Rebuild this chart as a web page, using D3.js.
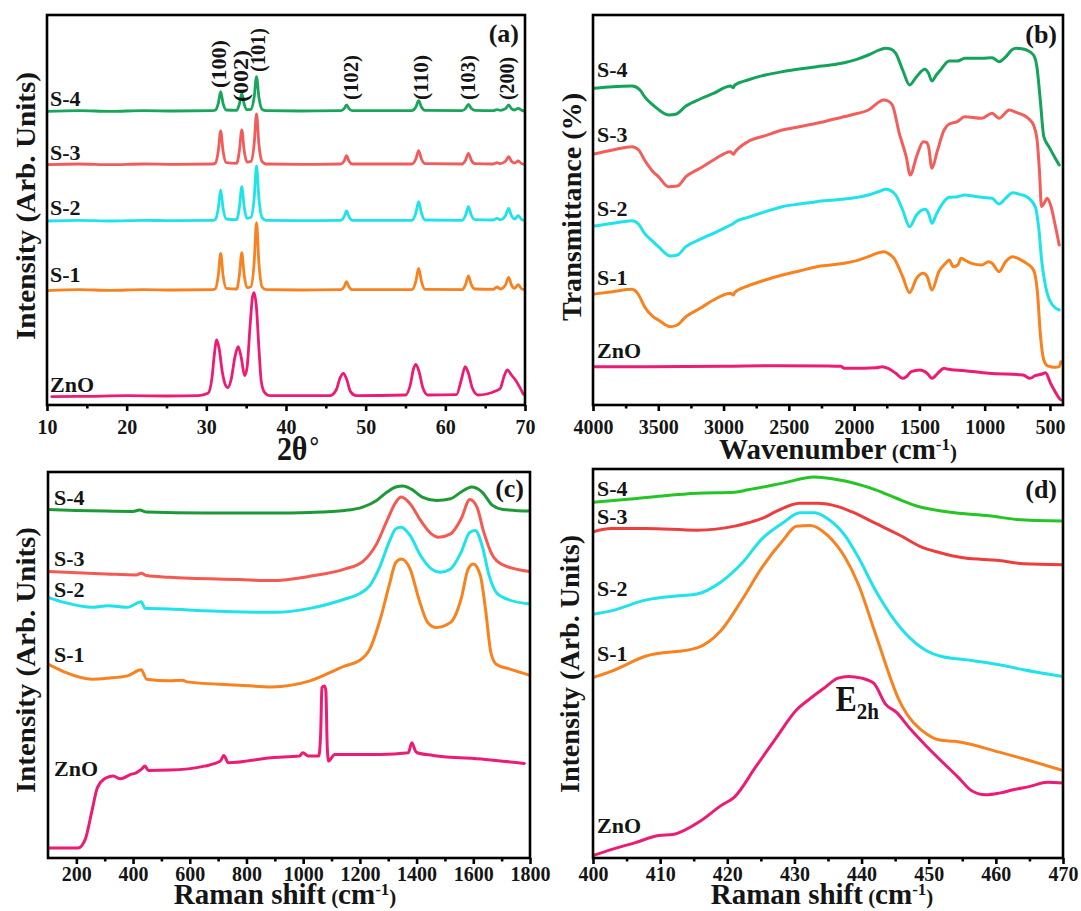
<!DOCTYPE html>
<html>
<head>
<meta charset="utf-8">
<script src="https://cdn.jsdelivr.net/npm/d3@7"></script>
<style>
  html, body { margin: 0; padding: 0; background: #fff; }
  svg { display: block; }
  text { font-family: "Liberation Serif", "Times New Roman", serif; font-weight: bold; fill: #151515; }
</style>
</head>
<body>
<svg id="fig" width="1081" height="911"></svg>
<script>
/* Four-panel ZnO / S-1..S-4 characterisation figure: XRD, FTIR, Raman, Raman zoom.
   Intensities are arbitrary units (0 = bottom axis). */

const samples = ["ZnO", "S-1", "S-2", "S-3", "S-4"];

// ----- (a) XRD, x = 2θ (deg) -----
const xrdZnO = [[10.6,25],[15,26],[20,28],[25,27],[29,28],[30.2,35],[30.7,80],[31.0,150],[31.3,195],[31.6,170],[32.0,100],[32.4,60],[32.7,52],[33.1,75],[33.6,145],[34.0,175],[34.4,140],[34.8,88],[35.1,110],[35.5,240],[35.8,325],[36.0,337],[36.3,290],[36.6,170],[36.9,70],[37.3,38],[38,28],[45.5,28],[46.3,45],[46.8,82],[47.2,95],[47.6,78],[48.1,40],[48.8,28],[55.0,30],[55.6,60],[56.0,108],[56.3,122],[56.7,100],[57.2,50],[57.8,30],[61.4,31],[62.0,75],[62.5,115],[62.9,95],[63.4,50],[64.1,30],[65.2,33],[66.3,42],[66.9,50],[67.4,88],[67.8,105],[68.3,90],[68.8,75],[69.3,55],[69.8,32]];
const xrdS1 = [[10,343],[14,346],[18,344],[22,346],[26,345],[30.8,346],[31.15,349],[31.5,389],[31.8,455],[32.1,389],[32.5,350],[33.8,348],[34.15,390],[34.45,457],[34.75,390],[35.1,352],[35.6,355],[36.0,426],[36.3,547],[36.6,426],[37.0,354],[37.5,346],[42,345],[46.9,346],[47.3,355],[47.6,370],[47.9,355],[48.3,346],[55.8,346],[56.3,371],[56.65,410],[57.0,371],[57.45,347],[62.1,346],[62.55,362],[62.9,387],[63.25,362],[63.7,348],[66.0,347],[66.5,354],[66.9,348],[67.55,360],[67.95,383],[68.3,360],[68.7,350],[69.15,361],[69.6,348],[70,346]];
const xrdS2 = [[10,552],[14,554],[18,552],[22,554],[26,553],[30.8,554],[31.15,557],[31.5,590],[31.8,645],[32.1,590],[32.5,558],[33.8,556],[34.15,594],[34.45,655],[34.75,594],[35.1,560],[35.6,563],[36.0,619],[36.3,717],[36.6,619],[37.0,562],[37.5,554],[42,553],[46.9,554],[47.3,565],[47.6,582],[47.9,565],[48.3,554],[55.8,554],[56.3,576],[56.65,610],[57.0,576],[57.45,555],[62.1,554],[62.55,570],[62.9,595],[63.25,570],[63.7,556],[66.0,555],[66.5,560],[66.9,556],[67.55,568],[67.95,590],[68.3,568],[68.7,558],[69.15,568],[69.6,556],[70,553]];
const xrdS3 = [[10,721],[14,723],[18,721],[22,723],[26,722],[30.8,723],[31.15,726],[31.5,762],[31.8,822],[32.1,762],[32.5,727],[33.8,725],[34.15,763],[34.45,825],[34.75,763],[35.1,729],[35.6,731],[36.0,782],[36.3,873],[36.6,782],[37.0,730],[37.5,723],[42,722],[46.9,723],[47.3,732],[47.6,748],[47.9,732],[48.3,723],[55.8,723],[56.3,738],[56.65,763],[57.0,738],[57.45,724],[62.1,723],[62.55,735],[62.9,755],[63.25,735],[63.7,724],[66.0,723],[66.5,727],[66.9,724],[67.55,731],[67.95,745],[68.3,731],[68.7,726],[69.15,732],[69.6,724],[70,722]];
const xrdS4 = [[10,881],[14,883],[18,881],[22,883],[26,882],[30.8,883],[31.15,885],[31.5,905],[31.8,940],[32.1,905],[32.5,885],[33.8,884],[34.15,903],[34.45,935],[34.75,903],[35.1,886],[35.6,887],[36.0,923],[36.3,985],[36.6,923],[37.0,887],[37.5,883],[42,882],[46.9,883],[47.3,889],[47.6,900],[47.9,889],[48.3,883],[55.8,883],[56.3,894],[56.65,913],[57.0,894],[57.45,884],[62.1,883],[62.55,890],[62.9,902],[63.25,890],[63.7,884],[66.0,883],[66.5,886],[66.9,884],[67.55,889],[67.95,900],[68.3,889],[68.7,885],[69.15,890],[69.6,884],[70,882]];
const hklNames = ["(100)", "(002)", "(101)", "(102)", "(110)", "(103)", "(200)"];
const hklAngles = [31.6, 34.3, 36.5, 48.2, 56.9, 62.8, 67.8];
const xrdTicks = [10, 20, 30, 40, 50, 60, 70];
const xrdMinor = [15, 25, 35, 45, 55, 65];

// ----- (b) FTIR, x = wavenumber (cm-1) -----
const ftirZnO = [[3990,115],[3600,115],[3000,116],[2600,118],[2200,117],[2100,116],[2076,110],[2023,110],[1830,112],[1786,115],[1740,110],[1680,95],[1628,80],[1600,85],[1562,100],[1496,105],[1440,95],[1404,80],[1360,95],[1311,110],[1290,108],[1153,103],[969,95],[705,90],[653,80],[613,88],[560,93],[534,97],[495,65],[460,40],[429,20],[416,15]];
const ftirS1 = [[3990,333],[3850,340],[3700,347],[3650,330],[3605,295],[3540,265],[3499,255],[3407,235],[3354,240],[3288,265],[3180,290],[3077,315],[2946,335],[2925,330],[2914,338],[2814,357],[2680,375],[2550,390],[2420,402],[2287,415],[2180,420],[2076,425],[1980,433],[1891,445],[1773,460],[1740,455],[1694,440],[1628,385],[1575,337],[1522,380],[1470,395],[1440,385],[1404,345],[1351,400],[1300,425],[1272,435],[1240,415],[1206,420],[1180,440],[1153,435],[1100,425],[1022,420],[970,430],[943,425],[890,400],[840,430],[785,445],[730,437],[679,425],[626,405],[595,335],[574,215],[547,135],[520,118],[495,115],[460,113],[429,115],[416,130]];
const ftirS2 = [[3990,537],[3850,545],[3700,553],[3650,542],[3605,515],[3540,490],[3499,475],[3407,447],[3354,450],[3288,475],[3180,497],[3077,515],[2946,540],[2925,544],[2914,548],[2814,563],[2680,580],[2550,595],[2420,603],[2287,610],[2150,615],[2023,620],[1891,630],[1800,642],[1760,647],[1720,643],[1681,630],[1628,585],[1575,535],[1522,570],[1457,587],[1430,575],[1404,545],[1370,572],[1338,595],[1272,623],[1206,625],[1153,630],[1080,626],[1022,623],[943,620],[890,603],[840,620],[785,637],[730,632],[679,625],[613,595],[587,535],[561,425],[540,370],[521,335],[480,300],[429,285]];
const ftirS3 = [[3990,753],[3850,765],[3700,775],[3650,765],[3605,735],[3540,700],[3499,685],[3420,655],[3354,657],[3288,685],[3180,710],[3077,735],[2946,760],[2925,752],[2914,758],[2814,790],[2680,808],[2550,825],[2420,835],[2287,845],[2150,858],[2023,870],[1891,885],[1773,915],[1740,912],[1707,900],[1654,815],[1601,745],[1570,690],[1522,745],[1470,790],[1445,788],[1430,775],[1404,710],[1364,760],[1311,825],[1272,843],[1210,850],[1153,865],[1022,860],[943,875],[890,860],[811,885],[760,878],[705,870],[660,858],[626,840],[600,800],[580,700],[565,595],[545,605],[521,620],[495,600],[460,540],[429,480]];
const ftirS4 = [[3990,950],[3850,955],[3700,957],[3640,945],[3605,925],[3526,895],[3420,870],[3367,872],[3288,897],[3180,918],[3077,935],[2946,957],[2925,952],[2914,960],[2814,975],[2680,990],[2550,1000],[2420,1008],[2287,1015],[2180,1020],[2076,1027],[1980,1037],[1891,1050],[1800,1066],[1760,1070],[1720,1068],[1681,1055],[1628,1005],[1575,960],[1522,985],[1457,1007],[1430,995],[1404,972],[1370,990],[1338,1005],[1272,1032],[1206,1032],[1153,1040],[1080,1040],[1022,1040],[943,1042],[890,1030],[837,1045],[790,1066],[758,1070],[705,1068],[679,1065],[626,1050],[600,1015],[574,915],[547,805],[508,775],[470,748],[429,720]];
const ftirTicks = [4000, 3500, 3000, 2500, 2000, 1500, 1000, 500];
const ftirMinor = [3750, 3250, 2750, 2250, 1750, 1250, 750];

// ----- (c) Raman, x = Raman shift (cm-1) -----
const ramZnO = [[100,30],[206,30],[231,55],[256,145],[274,210],[305,240],[330,245],[355,237],[392,250],[411,255],[429,265],[442,275],[454,262],[528,263],[652,275],[708,290],[720,307],[736,285],[888,300],[987,305],[999,315],[1018,305],[1055,305],[1062,380],[1066,510],[1075,515],[1080,500],[1085,330],[1090,290],[1096,295],[1111,310],[1272,310],[1371,315],[1383,345],[1396,320],[1402,315],[1458,307],[1643,295],[1780,283]];
const ramS1 = [[100,580],[157,557],[256,535],[312,538],[380,545],[429,563],[448,535],[528,530],[575,532],[590,527],[776,517],[888,512],[1024,530],[1148,575],[1197,590],[1235,625],[1272,715],[1303,815],[1327,885],[1346,895],[1377,865],[1408,775],[1439,705],[1470,690],[1520,705],[1557,775],[1582,865],[1600,880],[1625,845],[1643,745],[1662,615],[1681,580],[1730,565],[1800,547]];
const ramS2 = [[100,780],[157,765],[256,750],[312,755],[380,750],[429,767],[442,747],[528,745],[652,740],[900,735],[1024,747],[1148,775],[1197,790],[1235,815],[1272,875],[1303,945],[1327,985],[1346,990],[1377,965],[1414,905],[1452,865],[1483,855],[1520,865],[1557,915],[1588,975],[1607,980],[1631,935],[1656,845],[1681,795],[1718,775],[1800,760]];
const ramS3 = [[100,857],[305,850],[411,847],[429,852],[448,845],[528,840],[776,833],[888,830],[1024,843],[1148,865],[1210,887],[1259,940],[1296,1010],[1327,1065],[1346,1080],[1377,1060],[1414,1010],[1452,970],[1477,960],[1520,970],[1557,1015],[1588,1073],[1613,1050],[1637,975],[1668,905],[1705,877],[1800,857]];
const ramS4 = [[100,1043],[200,1040],[300,1038],[400,1037],[423,1041],[448,1035],[652,1032],[888,1032],[1024,1034],[1148,1040],[1210,1050],[1259,1070],[1296,1095],[1327,1110],[1352,1113],[1383,1103],[1420,1080],[1470,1070],[1520,1075],[1557,1095],[1594,1110],[1631,1095],[1668,1055],[1705,1043],[1800,1038]];
const ramTicks = [200, 400, 600, 800, 1000, 1200, 1400, 1600, 1800];
const ramMinor = [300, 500, 700, 900, 1100, 1300, 1500, 1700];

// ----- (d) Raman E2h region -----
const e2hZnO = [[400,7],[402.7,25],[406.2,45],[409.8,67],[411.9,70],[416.0,110],[419.0,155],[421.1,182],[424.2,270],[427.2,355],[430.3,440],[432.4,475],[434.4,505],[436.5,535],[438.0,540],[440.0,535],[441.8,520],[443.6,457],[445.2,433],[447.2,385],[449.3,340],[451.8,290],[454.4,240],[456.4,200],[458.5,188],[460.5,193],[462.6,203],[465.1,213],[467.7,225],[470,223]];
const e2hS1 = [[400,537],[402.7,555],[407.8,600],[415.5,625],[419.0,675],[422.1,765],[425.2,865],[428.3,945],[430.3,987],[432.4,989],[434.9,960],[437.5,895],[439.5,815],[442.1,665],[445.7,465],[449.8,367],[451.8,350],[453.9,347],[460.5,315],[464.1,295],[470,260]];
const e2hS2 = [[400,725],[402.7,735],[407.8,767],[412.9,780],[415.5,785],[419.0,820],[422.1,875],[425.2,950],[428.3,997],[430.8,1027],[432.9,1027],[434.9,1010],[437.5,960],[439.5,895],[442.1,795],[446.2,675],[449.8,615],[451.8,600],[455.4,590],[460.5,575],[464.1,560],[470,540]];
const e2hS3 = [[400,970],[402.7,980],[407.8,980],[415.5,975],[421.1,987],[423.1,997],[425.2,1010],[427.2,1030],[430.8,1055],[433.4,1055],[436.5,1045],[438.5,1030],[442.1,995],[445.7,960],[448.7,927],[451.3,910],[455.4,892],[460.5,885],[464.1,875],[470,872]];
const e2hS4 = [[400,1058],[405.2,1067],[410.3,1077],[415.5,1085],[421.1,1088],[423.1,1095],[428.3,1115],[432.9,1133],[436.5,1125],[438.5,1117],[442.1,1095],[445.2,1070],[448.2,1047],[453.9,1027],[459.0,1018],[463.1,1007],[470,1002]];
const e2hTicks = [400, 410, 420, 430, 440, 450, 460, 470];
const e2hMinor = [405, 415, 425, 435, 445, 455, 465];

// ----- drawing -----
const svg = d3.select("#fig");
const PINK = "#ec1c74", ORANGE = "#f7821f", CYAN = "#1fe3ea";

function htext(g, x, y, size, str, anchor, sy) {
  return g.append("text")
    .attr("transform", `translate(${x},${y}) scale(1,${sy || 1})`)
    .attr("text-anchor", anchor || "start")
    .style("font-size", size + "px").text(str);
}

function vtext(g, cx, cy, size, str, len) {
  return g.append("text")
    .attr("transform", `translate(${cx},${cy}) rotate(-90)`)
    .attr("x", -len / 2).attr("dominant-baseline", "central")
    .attr("textLength", len).attr("lengthAdjust", "spacingAndGlyphs")
    .style("font-size", size + "px").text(str);
}

function panel(p) {
  const x = d3.scaleLinear().domain(p.xDomain).range([p.left, p.right]);
  const y = d3.scaleLinear().domain([0, p.yMax]).range([p.bottom, p.top]);
  const g = svg.append("g");
  const clipId = "clip-" + p.id;
  g.append("clipPath").attr("id", clipId).append("rect")
    .attr("x", p.left).attr("y", p.top).attr("width", p.right - p.left).attr("height", p.bottom - p.top);

  const line = d3.line().x((d) => x(d[0])).y((d) => y(d[1])).curve(d3.curveMonotoneX);
  g.append("g").attr("clip-path", `url(#${clipId})`)
    .selectAll("path").data(p.series).join("path")
    .attr("d", (s) => line(s.data)).attr("fill", "none")
    .attr("stroke", (s) => s.color).attr("stroke-width", p.lw)
    .attr("stroke-linejoin", "round").attr("stroke-linecap", "round");

  g.append("rect").attr("x", p.left).attr("y", p.top)
    .attr("width", p.right - p.left).attr("height", p.bottom - p.top)
    .attr("fill", "none").attr("stroke", "#000").attr("stroke-width", 2.6);

  const major = g.append("g").attr("transform", `translate(0,${p.bottom})`)
    .call(d3.axisBottom(x).tickValues(p.ticks).tickSize(6).tickSizeOuter(0).tickFormat(d3.format("d")));
  const minor = g.append("g").attr("transform", `translate(0,${p.bottom})`)
    .call(d3.axisBottom(x).tickValues(p.minor).tickSize(3.5).tickSizeOuter(0).tickFormat(""));
  [major, minor].forEach((a) => {
    a.select(".domain").remove();
    a.selectAll("line").attr("stroke", "#000").attr("stroke-width", 2.6);
  });
  major.selectAll("text").attr("y", null).attr("dy", null)
    .attr("transform", `translate(0,${p.tickY}) scale(1,1.1)`)
    .attr("fill", "#151515").style("font-size", "20px")
    .style("font-family", '"Liberation Serif", "Times New Roman", serif');

  // sample names
  p.names.forEach((n) => htext(g, p.left + p.nameDx, y(n[1]), 22, n[0]));
  htext(g, p.right - 6, p.top + p.letterDy, 26, p.letter, "end");
  return { g, x, y };
}

// (a)
const A = panel({
  id: "a", left: 47, right: 525, top: 15, bottom: 405, xDomain: [10, 70], yMax: 1170, lw: 2.8,
  ticks: xrdTicks, minor: xrdMinor, tickY: 29, letter: "(a)", letterDy: 27, nameDx: 3,
  series: [
    { data: xrdZnO, color: PINK }, { data: xrdS1, color: ORANGE }, { data: xrdS2, color: CYAN },
    { data: xrdS3, color: "#f25b5b" }, { data: xrdS4, color: "#18a65b" }],
  names: [["S-4", 897], ["S-3", 735], ["S-2", 570], ["S-1", 370], ["ZnO", 40]],
});
const hklBottom = [88, 102, 72, 100, 100, 100, 100];
const hklLen = [48, 52, 44, 45, 45, 45, 43];
hklNames.forEach((t, i) => {
  A.g.append("text")
    .attr("transform", `translate(${A.x(hklAngles[i])},${hklBottom[i]}) rotate(-90)`)
    .attr("dominant-baseline", "central")
    .attr("textLength", hklLen[i]).attr("lengthAdjust", "spacingAndGlyphs")
    .style("font-size", "20px").text(t);
});
vtext(A.g, 26, 206, 27, "Intensity (Arb. Units)", 268);
const xa = htext(A.g, 298, 460, 30, "2θ", "middle", 1.1);
xa.append("tspan").attr("dx", 2).attr("dy", -5).style("font-size", "24px").text("°");

// (b)
const B = panel({
  id: "b", left: 593, right: 1063, top: 15, bottom: 405, xDomain: [4000, 400], yMax: 1170, lw: 3,
  ticks: ftirTicks, minor: ftirMinor, tickY: 29, letter: "(b)", letterDy: 28, nameDx: 4,
  series: [
    { data: ftirZnO, color: PINK }, { data: ftirS1, color: ORANGE }, { data: ftirS2, color: CYAN },
    { data: ftirS3, color: "#f25e5a" }, { data: ftirS4, color: "#14a35a" }],
  names: [["S-4", 985], ["S-3", 790], ["S-2", 567], ["S-1", 360], ["ZnO", 140]],
});
vtext(B.g, 572, 207, 27, "Transmittance (%)", 228);

function cmTitle(g, cx, y, head) {
  const t = htext(g, cx, y, 29, head, "middle", 1.03);
  t.append("tspan").style("font-size", "21px").text(" (");
  t.append("tspan").style("font-size", "29px").text("cm");
  t.append("tspan").attr("dy", -9).style("font-size", "17px").text("-1");
  t.append("tspan").attr("dy", 9).style("font-size", "21px").text(")");
  return t;
}
cmTitle(B.g, 838, 459, "Wavenumber");

// (c)
const C = panel({
  id: "c", left: 48, right: 530, top: 472, bottom: 858, xDomain: [100, 1800], yMax: 1155, lw: 3,
  ticks: ramTicks, minor: ramMinor, tickY: 23, letter: "(c)", letterDy: 25, nameDx: 6,
  series: [
    { data: ramZnO, color: PINK }, { data: ramS1, color: ORANGE }, { data: ramS2, color: CYAN },
    { data: ramS3, color: "#f45a52" }, { data: ramS4, color: "#1d9a35" }],
  names: [["S-4", 1055], ["S-3", 875], ["S-2", 780], ["S-1", 585], ["ZnO", 245]],
});
vtext(C.g, 26, 660, 27, "Intensity (Arb. Units)", 266);
cmTitle(C.g, 285, 904, "Raman shift");

// (d)
const D = panel({
  id: "d", left: 593, right: 1063, top: 469, bottom: 858, xDomain: [400, 470], yMax: 1157, lw: 3,
  ticks: e2hTicks, minor: e2hMinor, tickY: 23, letter: "(d)", letterDy: 29, nameDx: 4,
  series: [
    { data: e2hZnO, color: PINK }, { data: e2hS1, color: ORANGE }, { data: e2hS2, color: CYAN },
    { data: e2hS3, color: "#ee3d3d" }, { data: e2hS4, color: "#26c526" }],
  names: [["S-4", 1077], ["S-3", 993], ["S-2", 780], ["S-1", 587], ["ZnO", 75]],
});
vtext(D.g, 570, 664, 27, "Intensity (Arb. Units)", 258);
cmTitle(D.g, 822, 904, "Raman shift");
const e2h = htext(D.g, D.x(436.1), D.y(437), 32, "E", "start", 1.1);
e2h.append("tspan").attr("dy", 7).style("font-size", "21px").text("2h");
</script>
</body>
</html>
